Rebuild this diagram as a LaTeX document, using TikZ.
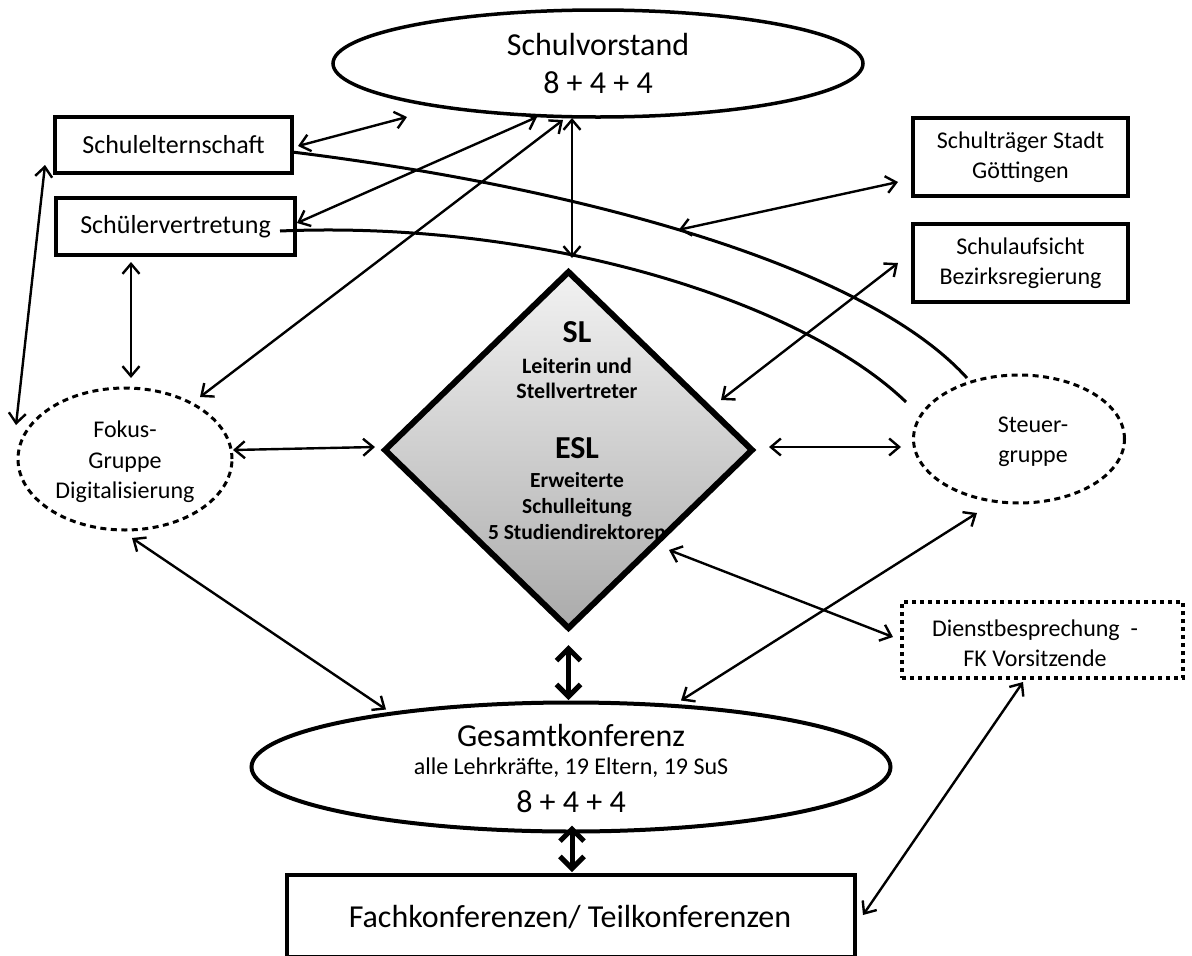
\documentclass[tikz,border=0pt]{standalone}
\usepackage{fontspec}
\setmainfont{Carlito}
\usetikzlibrary{shapes.geometric,arrows.meta,calc}

\begin{document}
\begin{tikzpicture}[x=1pt,y=-1pt,
  every node/.style={outer sep=0pt},
  box/.style={draw, line width=4pt, inner sep=0pt, align=center},
  oval/.style={draw, ellipse, inner sep=0pt},
  dashoval/.style={draw, ellipse, inner sep=0pt, line width=3pt, dash pattern=on 6pt off 4.5pt},
  lbl/.style={inner sep=0pt, align=center},
  arr/.style={<->, line width=2.4pt, >={Straight Barb[length=10pt,width=17pt]}},
  heavyarr/.style={<->, line width=5pt, >={Straight Barb[length=12pt,width=24pt]}},
  link/.style={line width=3pt},
  big/.style={font=\fontsize{32}{38}\selectfont},
  mid/.style={font=\fontsize{26}{31}\selectfont},
  small/.style={font=\fontsize{24}{30}\selectfont},
]
\useasboundingbox (0,0) rectangle (1192,956);
\fill[white] (0,0) rectangle (1192,956);

% --- top: Schulvorstand
\node[oval, line width=3.5pt, minimum width=530pt, minimum height=107pt] (sv) at (598,63.5) {};
\node[lbl, big] (svtext) at (598,64) {Schulvorstand\\8 + 4 + 4};

% --- left boxes
\node[box, mid, minimum width=237pt, minimum height=56pt] (elt) at (173.5,145) {Schulelternschaft};
\node[box, mid, minimum width=239pt, minimum height=57pt] (svt) at (175.5,226.5) {Schülervertretung};

% --- right boxes
\node[box, small, minimum width=215pt, minimum height=78pt] (st) at (1020.5,157) {Schulträger Stadt\\Göttingen};
\node[box, small, minimum width=215pt, minimum height=78pt] (sa) at (1020.5,263) {Schulaufsicht\\Bezirksregierung};

% --- dashed groups
\node[dashoval, minimum width=214pt, minimum height=142pt] (fok) at (125,459) {};
\node[lbl, font=\fontsize{24}{30.5}\selectfont] (foktext) at (125,462) {Fokus-\\Gruppe\\Digitalisierung};
\node[dashoval, minimum width=211pt, minimum height=128pt] (stg) at (1019,439) {};
\node[lbl, small] (stgtext) at (1033,442) {Steuer-\\gruppe};

% --- dotted meeting box
\node[draw, line width=4pt, dash pattern=on 4pt off 4pt, minimum width=281pt, minimum height=76pt, inner sep=0pt] (db) at (1042.5,640) {};
\node[lbl, small] (dbtext) at (1035,643) {Dienstbesprechung\ \ -\\FK Vorsitzende};

% --- school management diamond
\node[diamond, minimum width=367pt, minimum height=356pt, inner sep=0pt, top color=black!5, bottom color=black!33] (dia) at (568.5,450) {};
\node[lbl, font=\bfseries\fontsize{32}{36}\selectfont] (sl) at (577,332) {SL};
\node[lbl, font=\bfseries\fontsize{22}{25}\selectfont] (sltext) at (577,378) {Leiterin und\\Stellvertreter};
\node[lbl, font=\bfseries\fontsize{32}{36}\selectfont] (esl) at (577,448) {ESL};
\node[lbl, font=\bfseries\fontsize{21.5}{26}\selectfont] (esltext) at (577,506) {Erweiterte\\Schulleitung\\5 Studiendirektoren};
\draw[line width=6pt] (dia.north) -- (dia.east) -- (dia.south) -- (dia.west) -- cycle;

% --- Gesamtkonferenz
\node[oval, line width=4pt, minimum width=639pt, minimum height=129pt] (gk) at (571,767) {};
\node[lbl, big] (gk1) at (571,735) {Gesamtkonferenz};
\node[lbl, small] (gk2) at (571,768) {alle Lehrkräfte, 19 Eltern, 19 SuS};
\node[lbl, big] (gk3) at (571,802) {8 + 4 + 4};

% --- Fachkonferenzen
\node[draw, line width=4.5pt, minimum width=568pt, minimum height=82pt, inner sep=0pt] (fach) at (571,916) {};
\node[lbl, big] (fachtext) at (570,917) {Fachkonferenzen/ Teilkonferenzen};

% --- long curved links
\draw[link] ($(elt.east)+(0,7)$) .. controls (560,185) and (860,260) .. ($(stg.north)+(-52,3)$)
  coordinate[pos=0.485] (oncurve);
\draw[link] ($(svt.east)+(-15,4.5)$) .. controls (540,220) and (800,300) .. ($(stg.west)+(-7.5,-37)$);

% --- connectors
\coordinate (svgap) at (407,117);
\draw[arr] ($(elt.east)+(6,1)$) -- (svgap);
\draw[arr] ($(svt.east)+(2,-3.5)$) -- ($(sv.south)+(-61,0)$);
\draw[arr] ($(fok.north)+(75,9)$) -- ($(sv.south)+(-35,3)$);
\draw[arr] ($(sv.south)+(-26,1)$) -- ($(dia.north)+(3.5,-14)$);
\draw[arr] ($(elt.south west)+(-10,-8)$) -- ($(fok.west)+(-2,-34)$);
\draw[arr] ($(svt.south)+(-44.5,7)$) -- ($(fok.north)+(6,-10)$);
\draw[arr] ($(fok.east)+(1,-9)$) -- ($(dia.west)+(-10,-3)$);
\draw[arr] ($(dia.east)+(17,-3)$) -- ($(stg.west)+(-12.5,8)$);
\draw[arr] (oncurve) -- ($(st.west)+(-15,25)$);
\draw[arr] ($(dia.east)+(-31,-50)$) -- ($(sa.west)+(-15,0)$);
\draw[arr] ($(dia.east)+(-83,100)$) -- ($(db.west)+(-9,-3)$);
\draw[arr] ($(stg.south)+(-42,10)$) -- ($(gk.north)+(110,-2)$);
\draw[arr] ($(fok.south)+(7,8)$) -- ($(gk.north)+(-185,7)$);
\draw[heavyarr] ($(dia.south)+(0,17)$) -- ($(gk.north)+(-2.5,-2.5)$);
\draw[heavyarr] ($(gk.south)+(1,-6)$) -- ($(fach.north)+(1,-3)$);
\draw[arr] ($(db.south)+(-19.5,4)$) -- ($(fach.east)+(8,-1)$);
\end{tikzpicture}
\end{document}
